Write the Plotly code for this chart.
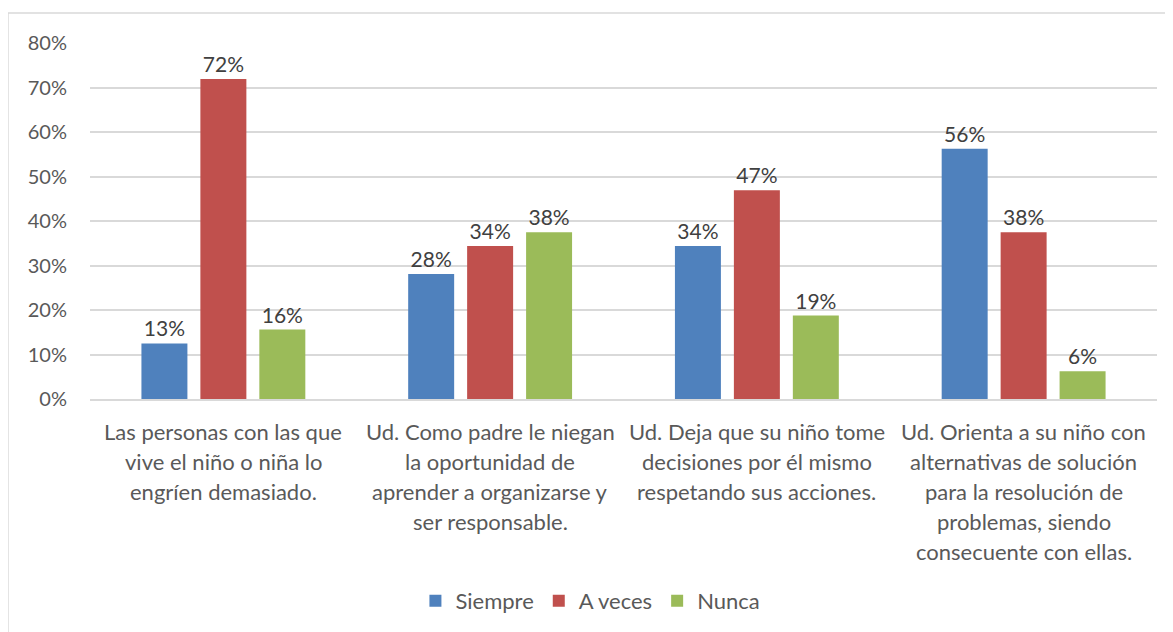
import plotly.graph_objects as go

# categories (each line of the wrapped axis label)
categories = ["Q1", "Q2", "Q3", "Q4"]
category_lines = [
    ["Las personas con las que", "vive el niño o niña lo", "engríen demasiado."],
    ["Ud. Como padre le niegan", "la oportunidad de", "aprender a organizarse y", "ser responsable."],
    ["Ud. Deja que su niño tome", "decisiones por él mismo", "respetando sus acciones."],
    ["Ud. Orienta a su niño con", "alternativas de solución", "para la resolución de", "problemas, siendo", "consecuente con ellas."],
]

siempre = [0.125, 0.281, 0.344, 0.5625]
a_veces = [0.719, 0.344, 0.469, 0.375]
nunca = [0.156, 0.375, 0.1875, 0.0625]

y_ticks = [0, 0.1, 0.2, 0.3, 0.4, 0.5, 0.6, 0.7, 0.8]

FONT = "Lato, 'Open Sans', sans-serif"
TEXT = "#595959"

fig = go.Figure()
for name, vals, color in [("Siempre", siempre, "#4F81BD"),
                          ("A veces", a_veces, "#C0504D"),
                          ("Nunca", nunca, "#9BBB59")]:
    fig.add_trace(go.Bar(
        x=categories, y=vals, name=name,
        marker=dict(color=color, line=dict(width=0)),
        texttemplate="%{y:.0%}", textposition="outside",
        textfont=dict(size=21, color="#404040", family=FONT),
        cliponaxis=False,
    ))

# wrapped category labels, one annotation per line
for cat, lines in zip(categories, category_lines):
    for i, line in enumerate(lines):
        fig.add_annotation(
            x=cat, y=0, xref="x", yref="y", text=line, showarrow=False,
            yanchor="middle", yshift=-(32 + i * 30),
            font=dict(size=22, color=TEXT, family=FONT),
        )

# outer chart border
fig.add_shape(type="rect", xref="paper", yref="paper",
              x0=-0.0769, x1=1.03, y0=-0.7, y1=1.084,
              line=dict(color="#D9D9D9", width=1.5), layer="below")

fig.update_layout(
    width=1165, height=624,
    margin=dict(l=82, r=16, t=35, b=232),
    paper_bgcolor="white", plot_bgcolor="white",
    font=dict(family=FONT, color=TEXT, size=20),
    barmode="group", bargap=0.337, bargroupgap=0.22,
    showlegend=True,
    legend=dict(orientation="h", x=0.469, xanchor="center", y=-0.563, yanchor="middle",
                font=dict(size=22, color=TEXT), itemwidth=30),
    xaxis=dict(showticklabels=False, showgrid=False, showline=True,
               linecolor="#D9D9D9", linewidth=1.5, ticks=""),
    yaxis=dict(range=[0, 0.8], tickvals=y_ticks, tickformat=".0%",
               showgrid=True, gridcolor="#D9D9D9", gridwidth=1.5,
               zeroline=False, showline=False, ticks="",
               ticklabelstandoff=22, tickfont=dict(size=20, color=TEXT)),
)

fig.write_html("out.html")
